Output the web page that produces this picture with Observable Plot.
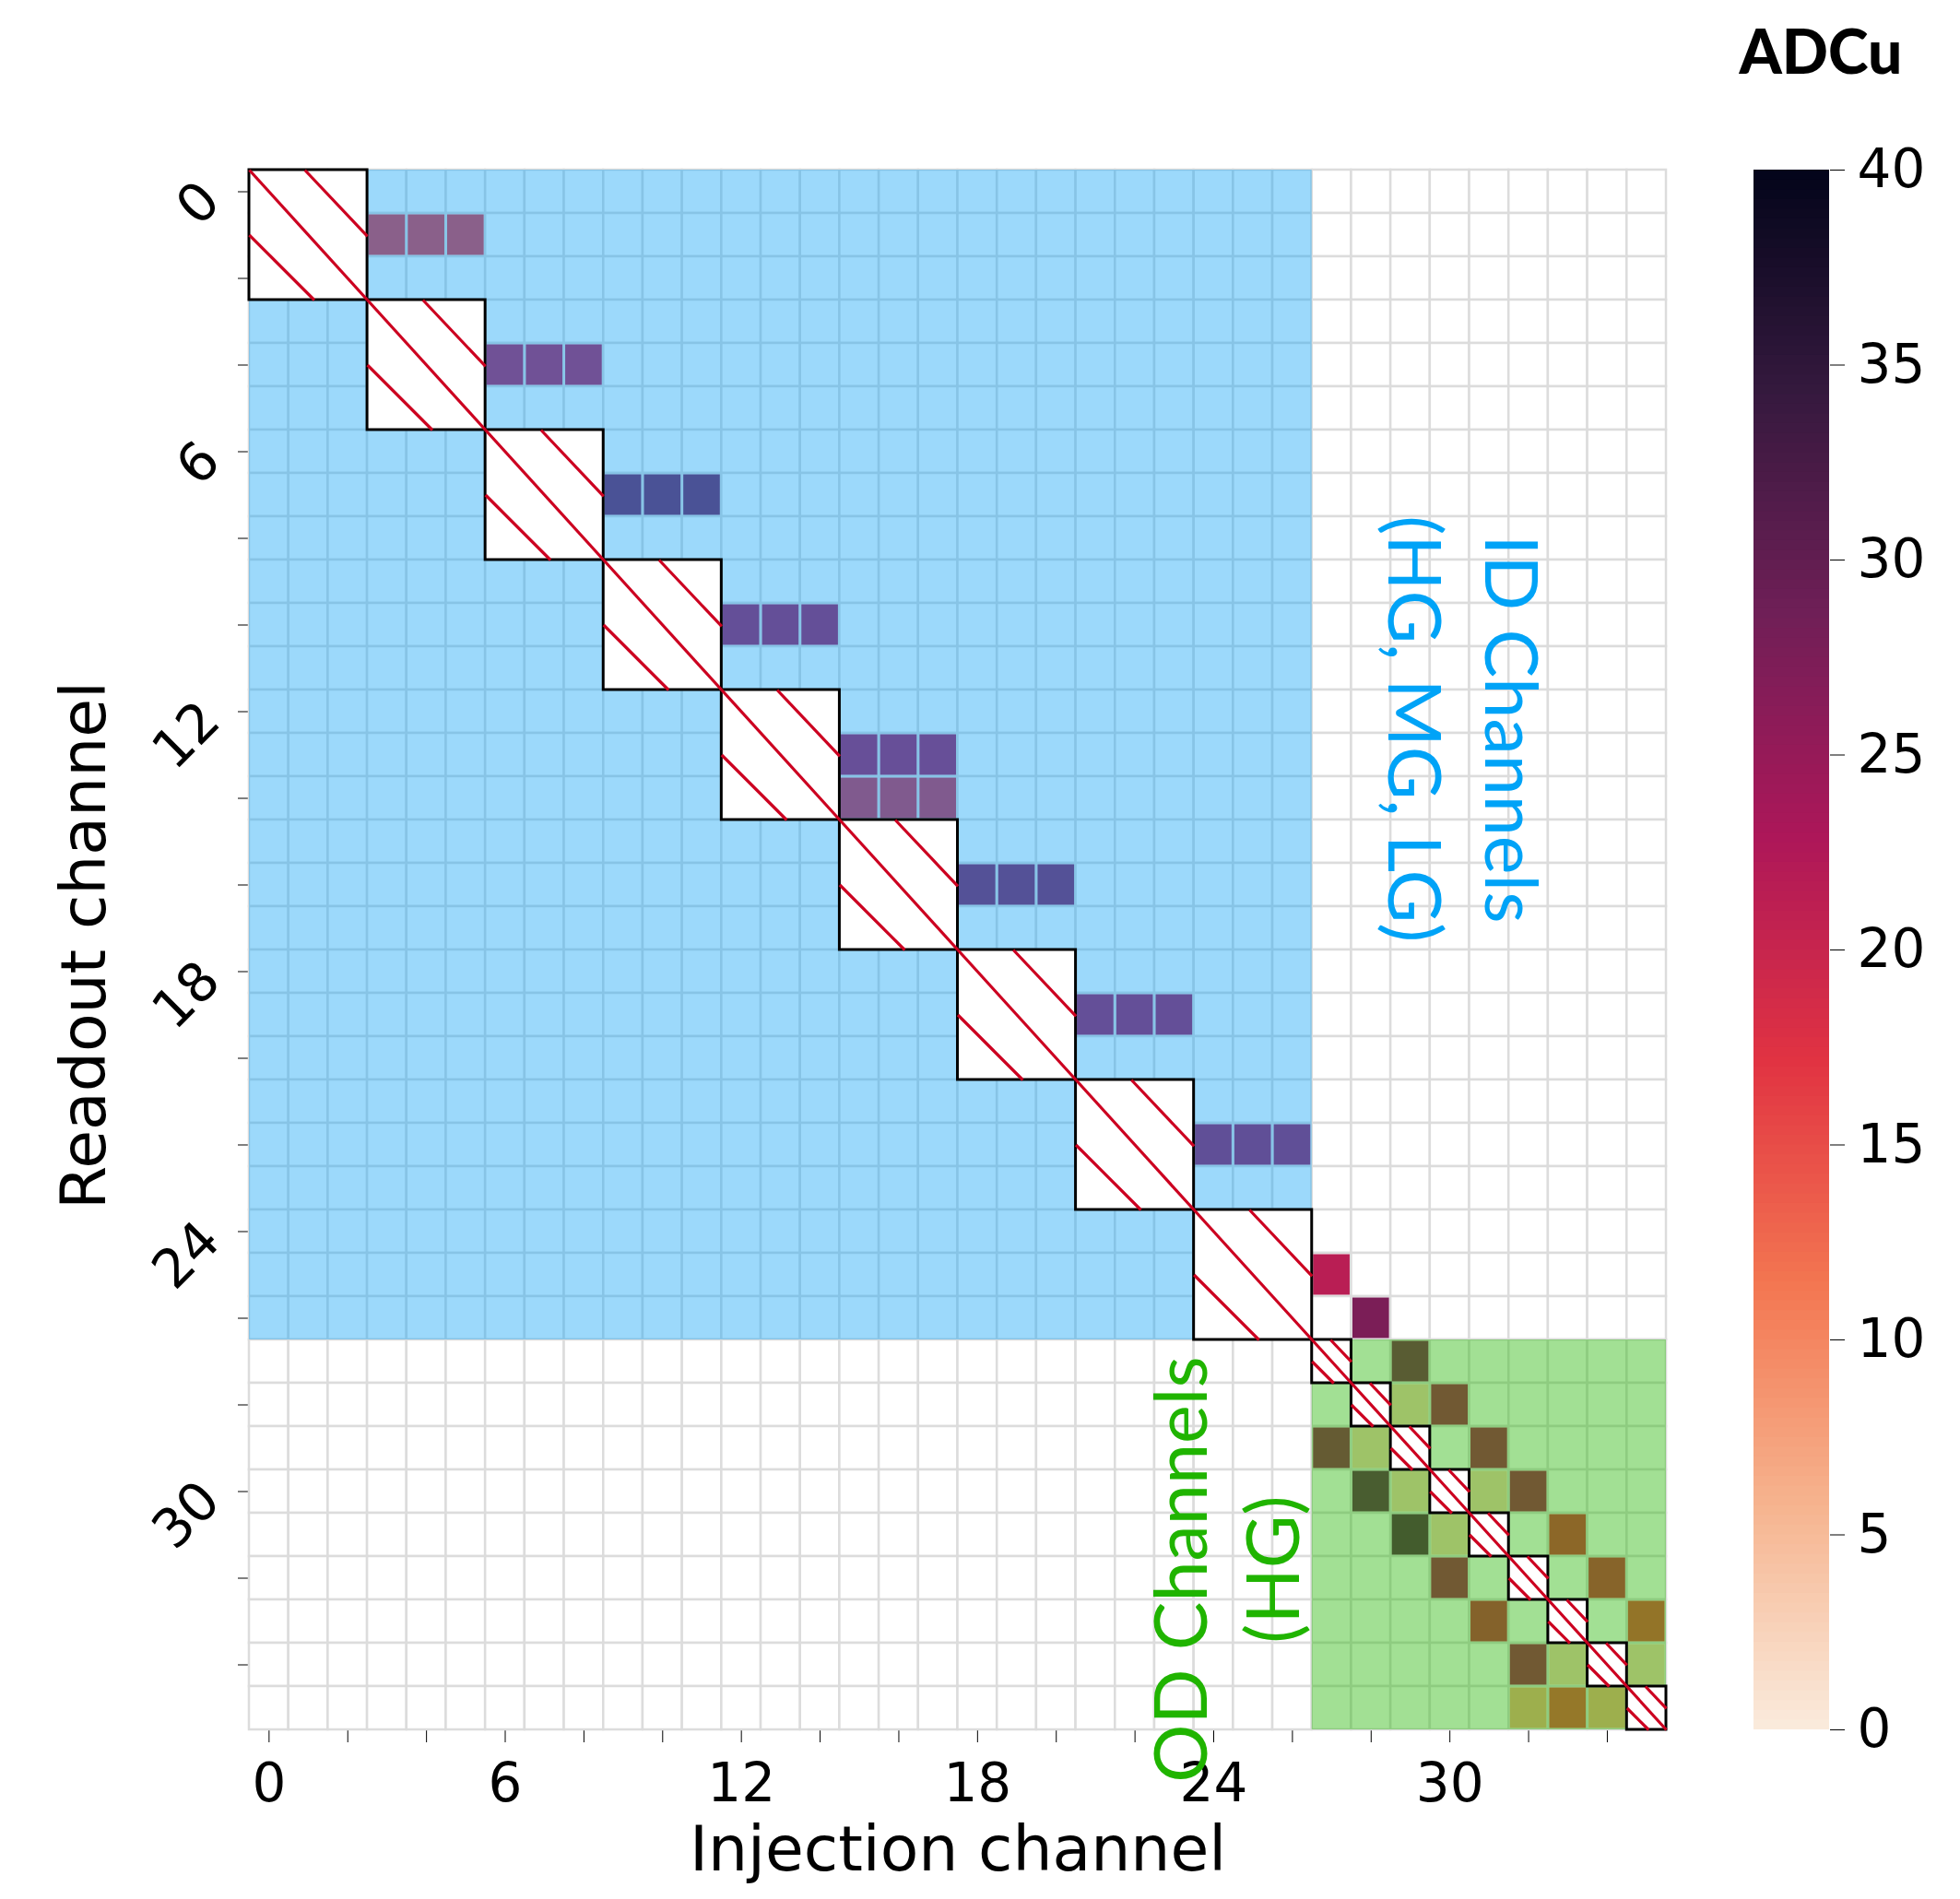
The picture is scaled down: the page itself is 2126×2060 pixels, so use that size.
<!DOCTYPE html>
<html>
<head>
<meta charset="utf-8">
<script src="https://cdn.jsdelivr.net/npm/d3@7"></script>
<script src="https://cdn.jsdelivr.net/npm/@observablehq/plot@0.6"></script>
<style>
html, body { margin: 0; padding: 0; background: #fff; }
#wrap { position: relative; width: 2126px; height: 2060px; overflow: hidden; background: #fff; }
#wrap svg { position: absolute; top: 0; overflow: visible; }
#title { position: absolute; left: 1870px; width: 210px; top: 22px; text-align: center;
  font-family: Lato, "Open Sans", sans-serif; font-weight: 900; font-size: 66px; line-height: 1; color: #000; }
</style>
</head>
<body>
<div id="wrap"><div id="title">ADCu</div></div>
<script>
// ---------- data ----------
const channels = d3.range(36);               // injection / readout channel ids
const tickValues = d3.range(0, 36, 2);       // tick marks every 2 channels
const labelStep = 6;                         // labelled every 6 channels
const colorbarTicks = d3.range(0, 41, 5);
const adcDomain = [0, 40];
// seaborn "rocket" reversed (light -> dark)
const rocketStops = ["#faebdd", "#f6b48f", "#f37651", "#e13342", "#ad1759", "#701f57", "#35193e", "#03051a"];

// channel groups
const groupFirst = [0, 27];
const groupLast = [26, 35];
const groupBlock = [3, 1];
const groupLabel = ["ID Channels\n(HG, MG, LG)", "OD Channels\n(HG)"];
const groupColor = ["#0aa1f5", "#22b400"];
const groupOpacity = [0.404, 0.42];
const groupTextColor = ["#00a3f7", "#20b400"];
const labelCol = [30.45, 24.25];
const labelRow = [12.4, 31.8];
const labelRotate = [90, -90];
const labelLineHeight = [1.33, 1.27];

// cross-talk cells (readout, injection, ADCu)
const readout = [1, 1, 1, 4, 4, 4, 7, 7, 7, 10, 10, 10, 13, 13, 13, 14, 14, 14, 16, 16, 16, 19, 19, 19, 22, 22, 22, 25, 26,
  27, 28, 28, 29, 29, 29, 30, 30, 30, 30, 31, 31, 31, 32, 32, 33, 33, 34, 34, 34, 35, 35, 35];
const injection = [3, 4, 5, 6, 7, 8, 9, 10, 11, 12, 13, 14, 15, 16, 17, 15, 16, 17, 18, 19, 20, 21, 22, 23, 24, 25, 26, 27, 28,
  29, 29, 30, 27, 28, 31, 28, 29, 31, 32, 29, 30, 33, 30, 34, 31, 35, 32, 33, 35, 32, 33, 34];
const adc = [17, 17, 17, 22, 22, 22, 28, 28, 28, 24, 24, 24, 23.5, 23.5, 23.5, 19, 19, 19, 26.5, 26.5, 26.5, 24, 24, 24, 24.5, 24.5, 24.5, 21.5, 27.5,
  27, 3, 23, 25, 3, 23, 29.5, 3, 3, 23, 30.5, 3, 18, 23, 19, 19.5, 15.5, 23, 3, 3, 6.5, 15, 6.5];

// ---------- derived tables ----------
const grid = channels.flatMap(r => channels.map(c => ({r, c})));
const hits = readout.map((r, i) => ({r, c: injection[i], v: adc[i]}));
const groups = groupFirst.map((f, i) => ({first: f, last: groupLast[i], block: groupBlock[i]}));
const blocks = groups.flatMap(g => d3.range(g.first, g.last + 1, g.block).map(s => ({s, n: g.block})));
const hatchPattern = [[0, 0, 1, 1], [0.47, 0, 1, 0.51], [0, 0.5, 0.55, 1]];
const hatches = blocks.flatMap(b => hatchPattern.map(p => ({b, p})));

const colorScale = {type: "linear", domain: adcDomain, interpolate: d3.piecewise(d3.interpolateRgb, rocketStops)};
const fmt = d => (d % labelStep === 0 ? String(d) : "");

const main = Plot.plot({
  width: 2126, height: 2060,
  marginLeft: 270, marginRight: 319, marginTop: 184, marginBottom: 184,
  style: {fontFamily: "DejaVu Sans", fontSize: "58px", color: "#000", background: "transparent"},
  x: {domain: [-0.5, 35.5], ticks: tickValues, tickFormat: fmt, tickSize: 14, tickPadding: 22, label: null},
  y: {domain: [35.5, -0.5], ticks: tickValues, tickFormat: fmt, tickSize: 12, tickPadding: 30, tickRotate: -45, label: null},
  color: colorScale,
  marks: [
    Plot.rect(grid, {x1: d => d.c - 0.5, x2: d => d.c + 0.5, y1: d => d.r - 0.5, y2: d => d.r + 0.5,
      fill: "white", stroke: "#dcdcdc", strokeWidth: 2.5}),
    Plot.rect(hits, {x1: d => d.c - 0.5, x2: d => d.c + 0.5, y1: d => d.r - 0.5, y2: d => d.r + 0.5,
      fill: "v", inset: 1.5}),
    ...groups.map((g, i) => Plot.rect([g], {x1: d => d.first - 0.5, x2: d => d.last + 0.5,
      y1: d => d.first - 0.5, y2: d => d.last + 0.5, fill: groupColor[i], fillOpacity: groupOpacity[i]})),
    Plot.rect(blocks, {x1: d => d.s - 0.5, x2: d => d.s - 0.5 + d.n, y1: d => d.s - 0.5, y2: d => d.s - 0.5 + d.n,
      fill: "white", stroke: "black", strokeWidth: 3}),
    Plot.link(hatches, {
      x1: d => d.b.s - 0.5 + d.p[0] * d.b.n, y1: d => d.b.s - 0.5 + d.p[1] * d.b.n,
      x2: d => d.b.s - 0.5 + d.p[2] * d.b.n, y2: d => d.b.s - 0.5 + d.p[3] * d.b.n,
      stroke: "#cc0020", strokeWidth: 3.2}),
    ...groups.map((g, i) => Plot.text([groupLabel[i]], {x: () => labelCol[i], y: () => labelRow[i], text: d => d,
      rotate: labelRotate[i], fill: groupTextColor[i], fontSize: 79, fontFamily: "Lato", lineHeight: labelLineHeight[i],
      textAnchor: "middle", lineAnchor: "middle"})),
    Plot.text(["Injection channel"], {frameAnchor: "bottom", dy: 131, text: d => d, fontSize: 68,
      textAnchor: "middle", lineAnchor: "middle"}),
    Plot.text(["Readout channel"], {frameAnchor: "left", dx: -178, dy: -5, rotate: -90, text: d => d, fontSize: 68,
      textAnchor: "middle", lineAnchor: "middle"})
  ]
});
main.style.left = "0px";
document.getElementById("wrap").appendChild(main);

const ramp = d3.range(0, 40, 0.25);
const bar = Plot.plot({
  width: 286, height: 2060,
  marginLeft: 62, marginRight: 142, marginTop: 184, marginBottom: 184,
  style: {fontFamily: "DejaVu Sans", fontSize: "58px", color: "#000", background: "transparent"},
  y: {domain: adcDomain, ticks: colorbarTicks, tickSize: 16, tickPadding: 14, label: null, axis: "right"},
  color: colorScale,
  marks: [
    Plot.rect(ramp, {y1: d => d, y2: d => Math.min(40, d + 0.4), fill: d => d + 0.125})
  ]
});
bar.style.left = "1840px";
document.getElementById("wrap").appendChild(bar);
</script>
</body>
</html>
